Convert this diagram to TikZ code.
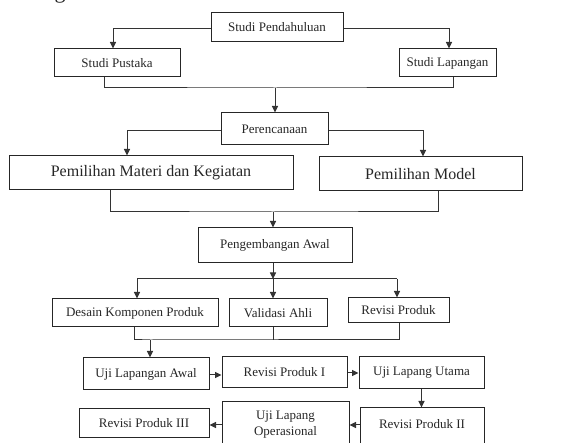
\documentclass[tikz,border=0pt]{standalone}
\usepackage{fontspec}
\setmainfont{Liberation Serif}
\usetikzlibrary{arrows.meta}
\begin{document}
\begin{tikzpicture}[x=1pt,y=-1pt,
  box/.style={draw=black!85,line width=1pt,text=black!85,font=\fontsize{13}{16}\selectfont,inner sep=0pt,align=center},
  bigbox/.style={box,font=\fontsize{16}{19}\selectfont},
  ln/.style={draw=black!80,line width=1pt},
  arr/.style={ln,-{Triangle[length=6.5pt,width=6pt]}}]
\useasboundingbox (0,0) rectangle (565,443);
\clip (0,0) rectangle (565,443);
% fragment of heading
\node[anchor=base,inner sep=0pt,text=black!85,font=\fontsize{22}{24}\selectfont] (frag) at (60,-1.5) {g};
% nodes
\node[box,minimum width=132,minimum height=29] (sp) at (277,27.5) {Studi Pendahuluan};
\node[box,minimum width=126,minimum height=28] (spu) at (117,63) {Studi Pustaka};
\node[box,minimum width=97,minimum height=28] (sl) at (447.5,63) {Studi Lapangan};
\node[box,minimum width=107,minimum height=32] (per) at (274.5,129) {Perencanaan};
\node[bigbox,minimum width=284,minimum height=34] (pmk) at (151,173) {Pemilihan Materi dan Kegiatan};
\node[bigbox,minimum width=203,minimum height=34] (pm) at (420.5,174) {Pemilihan Model};
\node[box,minimum width=154,minimum height=35] (pa) at (275,245.5) {Pengembangan Awal};
\node[box,minimum width=166,minimum height=28] (dkp) at (135,313) {Desain Komponen Produk};
\node[box,minimum width=98,minimum height=28] (va) at (278,313) {Validasi Ahli};
\node[box,minimum width=101,minimum height=25] (rp) at (398.5,310.5) {Revisi Produk};
\node[box,minimum width=126,minimum height=32] (ula) at (146,374) {Uji Lapangan Awal};
\node[box,minimum width=125,minimum height=31] (rp1) at (284.5,372.5) {Revisi Produk I};
\node[box,minimum width=125,minimum height=32] (ulu) at (421.5,373) {Uji Lapang Utama};
\node[box,minimum width=124,minimum height=38,text depth=6pt] (rp2) at (422,427) {Revisi Produk II};
\node[box,minimum width=127,minimum height=46] (ulo) at (285.5,425) {Uji Lapang\\Operasional};
\node[box,minimum width=130,minimum height=29] (rp3) at (144,423.5) {Revisi Produk III};
% coordinates
\coordinate (m1) at (275,88);
\coordinate (m2) at (273,212);
\coordinate (j3) at (273,279);
\coordinate (m4) at (150,340);
% connectors
\draw[arr] ([yshift=-1.5]sp.west) -| ([xshift=-4]spu.north);
\draw[arr] ([yshift=-1.5]sp.east) -| ([xshift=1.5]sl.north);
\draw[ln] ([xshift=-13]spu.south) |- (m1) -| ([xshift=5.5]sl.south);
\draw[arr] (m1) -- (m1 |- per.north);
\draw[arr] ([yshift=-2]per.west) -| ([xshift=-24]pmk.north);
\draw[arr] ([yshift=-2]per.east) -| ([xshift=2.5]pm.north);
\draw[ln] ([xshift=-41]pmk.south) |- (m2) -| ([xshift=17.5]pm.south);
\draw[arr] (m2) -- (m2 |- pa.north);
\draw[arr] ([xshift=-2]pa.south) -- (j3);
\draw[ln] (j3) -- ([xshift=2]dkp.north |- j3) (j3) -- ([xshift=-1.5]rp.north |- j3);
\draw[arr] ([xshift=2]dkp.north |- j3) -- ([xshift=2]dkp.north);
\draw[arr] (j3) -- (j3 |- va.north);
\draw[arr] ([xshift=-1.5]rp.north |- j3) -- ([xshift=-1.5]rp.north);
\draw[ln] ([xshift=-1]dkp.south) |- (m4) -| ([xshift=0.5]rp.south);
\draw[ln] ([xshift=-5]va.south) -- ([xshift=-5]va.south |- m4);
\draw[arr] (m4) -- (m4 |- ula.north);
\draw[arr] ([yshift=-1]ula.east) -- ([yshift=-1]ula.east -| rp1.west);
\draw[arr] ([yshift=-0.5]rp1.east) -- ([yshift=-0.5]rp1.east -| ulu.west);
\draw[arr] (ulu.south) -- (ulu.south |- rp2.north);
\draw[arr] (rp2.west |- ulo.east) -- (ulo.east);
\draw[arr] (ulo.west) -- (ulo.west -| rp3.east);
\end{tikzpicture}
\end{document}
